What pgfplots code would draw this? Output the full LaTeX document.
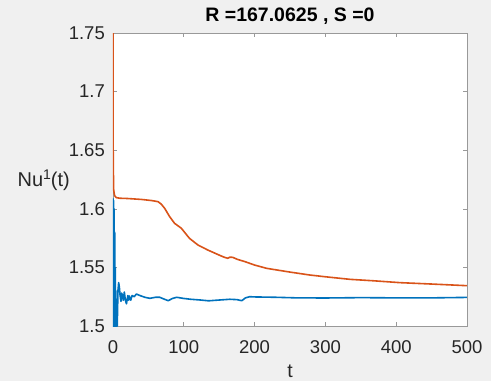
\documentclass[border=0pt]{standalone}
\usepackage{fontspec}
\setmainfont{Liberation Sans}
\usepackage{pgfplots}
\pgfplotsset{compat=1.18}
\definecolor{mblue}{rgb}{0,0.447,0.741}
\definecolor{morange}{rgb}{0.850,0.325,0.098}
\definecolor{figbg}{HTML}{F0F0F0}
\definecolor{axgray}{HTML}{262626}
\begin{document}
\begin{tikzpicture}
\fill[figbg] (0,0) rectangle (491pt,381pt);
\useasboundingbox (0,0) rectangle (491pt,381pt);
\begin{axis}[
  scale only axis,
  width=354pt, height=293pt,
  at={(113pt,55pt)}, anchor=south west,
  xmin=0, xmax=500, ymin=1.5, ymax=1.75,
  xtick={0,100,200,300,400,500},
  ytick={1.5,1.55,1.6,1.65,1.7,1.75},
  yticklabels={1.5,1.55,1.6,1.65,1.7,1.75},
  xticklabels={0,100,200,300,400,500},
  tick align=inside, tick pos=both,
  major tick length=4pt,
  axis background/.style={fill=white},
  axis line style={draw=black!40, line width=0.6pt},
  every tick/.style={draw=black!40, line width=0.6pt},
  tick label style={font=\fontsize{18.5}{20}\selectfont, text=axgray, inner sep=0pt},
  yticklabel style={anchor=east, xshift=-8pt},
  xticklabel style={anchor=north, yshift=-14pt},
  title={\textbf{R =167.0625 , S =0}},
  title style={font=\fontsize{19.5}{21}\selectfont, text=black, at={(axis description cs:0.5,1)}, anchor=base, yshift=5pt, inner sep=0pt},
  xlabel={t},
  ylabel={Nu{\fontsize{14}{14}\selectfont\raisebox{0.55em}{1}}(t)},
  every axis x label/.style={at={(axis description cs:0.5,0)}, anchor=base, yshift=-51pt, inner sep=0pt, font=\fontsize{19.5}{20}\selectfont, text=axgray},
  every axis y label/.style={at={(axis description cs:0,0.5)}, anchor=base east, xshift=-43pt, yshift=-7.2pt, inner sep=0pt, font=\fontsize{20}{20}\selectfont, text=axgray},
  clip=true,
]
\addplot[morange, line width=1.6pt, line join=round] coordinates {
(0,1.80) (0.3,1.64) (1,1.616) (2,1.612) (3,1.6105) (5,1.6095) (10,1.609) (20,1.6088) (40,1.608) (55,1.607) (63.5,1.6061) (68,1.6041) (73,1.6004) (80,1.5933) (87,1.5876) (96.5,1.5834) (108,1.5748) (120,1.5691) (134,1.5648) (153,1.5597) (158,1.5585) (162,1.5578) (165,1.5587) (169,1.5586) (176,1.5568) (186,1.555) (200,1.552) (217,1.5492) (250,1.546) (278,1.5435) (300,1.542) (335,1.5398) (370,1.5385) (405,1.537) (450,1.5358) (500,1.5344)
};
\addplot[mblue, line width=1.6pt, line join=round] coordinates {
(0,1.609) (0.4,1.49) (0.8,1.607) (1.2,1.49) (1.6,1.60) (2.0,1.49) (2.4,1.58) (2.8,1.49) (3.2,1.55) (3.6,1.49) (4,1.53) (4.5,1.495) (5,1.52) (6,1.50) (7,1.53) (8,1.537) (9,1.533) (10,1.526) (11.3,1.521) (12,1.528) (13,1.527) (14.5,1.522) (16,1.529) (17.5,1.522) (19,1.519) (21,1.526) (22,1.522) (23,1.5256) (25,1.522) (27,1.526) (30,1.525) (33,1.5273) (38,1.526) (45,1.5245) (52,1.5236) (60,1.5245) (66,1.5245) (72,1.523) (78,1.5216) (84,1.5235) (90,1.5245) (100,1.5235) (110,1.5228) (123,1.5222) (135,1.5215) (151,1.5222) (165,1.5228) (175,1.5225) (182,1.5216) (187,1.524) (193,1.525) (200,1.5248) (230,1.5245) (260,1.524) (300,1.5239) (350,1.5242) (400,1.524) (450,1.524) (500,1.5244)
};
\end{axis}
\end{tikzpicture}
\end{document}
